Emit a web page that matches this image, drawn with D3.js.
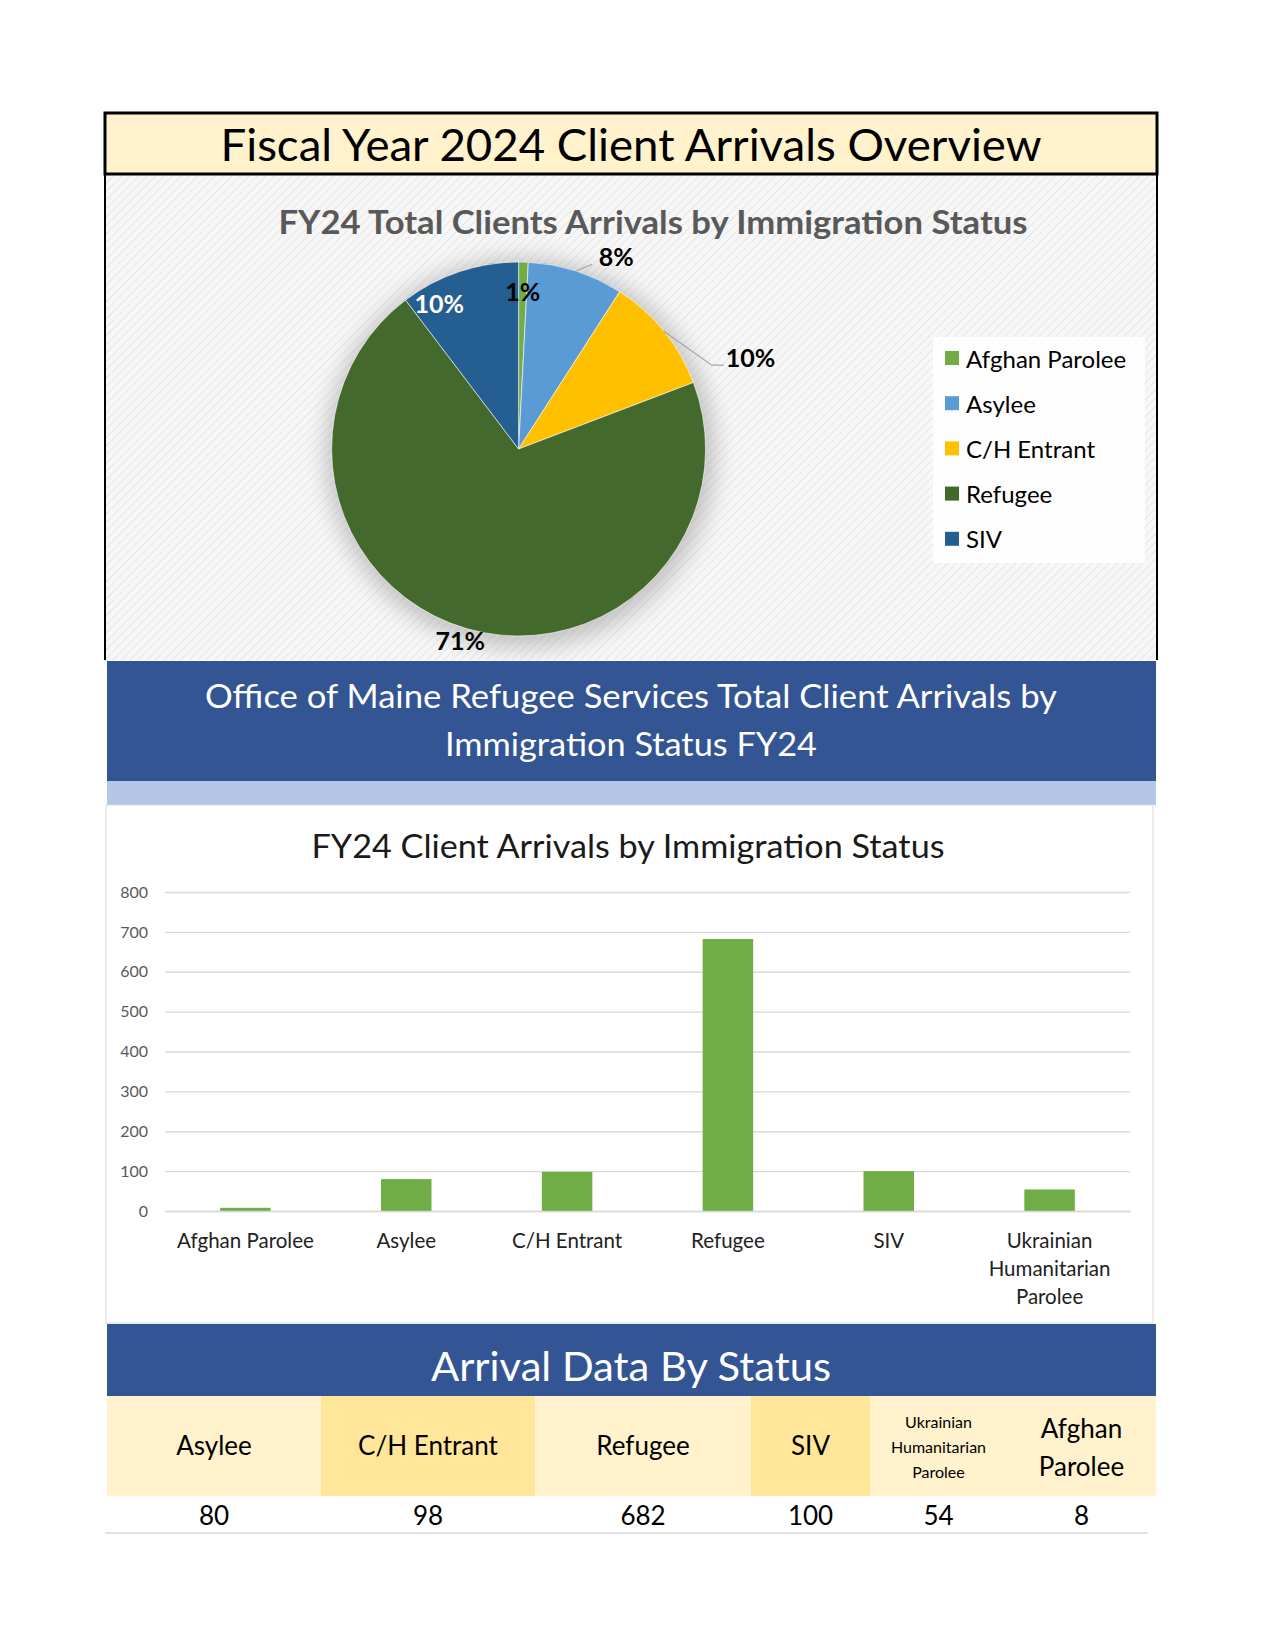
<!DOCTYPE html>
<html><head><meta charset="utf-8">
<script src="https://cdn.jsdelivr.net/npm/d3@7"></script>
<style>body{margin:0;background:#fff}svg{display:block}text{font-family:Lato,"Open Sans",sans-serif}</style>
</head><body>
<script>
// ---------- DATA ----------
const categories = ["Afghan Parolee","Asylee","C/H Entrant","Refugee","SIV","Ukrainian Humanitarian Parolee"];
const arrivals = [8,80,98,682,100,54];
const pieCategories = ["Afghan Parolee","Asylee","C/H Entrant","Refugee","SIV"];
const pieValues = [8,80,98,682,100];
const pieColors = ["#70AD47","#5B9BD5","#FFC000","#436A2C","#255E91"];
const yTicks = [0,100,200,300,400,500,600,700,800];
const tableLabels = ["Asylee","C/H Entrant","Refugee","SIV","Ukrainian Humanitarian Parolee","Afghan Parolee"];
const tableValues = [80,98,682,100,54,8];

// ---------- SETUP ----------
const W=1275,H=1650;
const svg=d3.select("body").append("svg").attr("width",W).attr("height",H);
const defs=svg.append("defs");
const pat=defs.append("pattern").attr("id","hatch").attr("width",6).attr("height",6)
  .attr("patternUnits","userSpaceOnUse").attr("patternTransform","rotate(45)");
pat.append("rect").attr("width",6).attr("height",6).attr("fill","#F7F7F7");
pat.append("line").attr("x1",0).attr("y1",0).attr("x2",0).attr("y2",6).attr("stroke","#E6E6E6").attr("stroke-width",2);
const blur=defs.append("filter").attr("id","soft").attr("x","-30%").attr("y","-30%").attr("width","160%").attr("height","160%");
blur.append("feGaussianBlur").attr("stdDeviation",11);

function txt(g,x,y,s,o={}){
  const t=g.append("text").attr("x",x).attr("y",y).text(s)
    .attr("font-size",o.size||16).attr("font-weight",o.weight||"normal")
    .attr("fill",o.fill||"#000").attr("text-anchor",o.anchor||"middle")
    .attr("dominant-baseline","central");
  if(o.width) t.attr("textLength",o.width).attr("lengthAdjust","spacingAndGlyphs");
  return t;
}

// ---------- TOP SECTION ----------
const L=105,R=1157;
svg.append("rect").attr("x",L).attr("y",174).attr("width",R-L).attr("height",486).attr("fill","url(#hatch)");
svg.append("rect").attr("x",L).attr("y",113).attr("width",R-L).attr("height",61).attr("fill","#FFF2CC")
  .attr("stroke","#000").attr("stroke-width",3);
svg.append("line").attr("x1",L).attr("x2",L).attr("y1",174).attr("y2",660).attr("stroke","#000").attr("stroke-width",2);
svg.append("line").attr("x1",R).attr("x2",R).attr("y1",174).attr("y2",660).attr("stroke","#000").attr("stroke-width",2);
txt(svg,(L+R)/2,144,"Fiscal Year 2024 Client Arrivals Overview",{size:44,width:821});

txt(svg,653,221,"FY24 Total Clients Arrivals by Immigration Status",{size:32,weight:"bold",fill:"#595959",width:749});

// pie
const cx=518.6,cy=449,rad=187;
const pg=svg.append("g").attr("transform",`translate(${cx},${cy})`);
pg.append("circle").attr("r",rad+8).attr("cx",2).attr("cy",4).attr("fill","#9a9a9a").attr("opacity",0.55).attr("filter","url(#soft)");
const pie=d3.pie().sort(null).value(d=>d)(pieValues);
const arc=d3.arc().innerRadius(0).outerRadius(rad);
pg.selectAll("path.slice").data(pie).join("path").attr("class","slice")
  .attr("d",arc).attr("fill",(d,i)=>pieColors[i]).attr("stroke","#fff").attr("stroke-width",0.6);
// percentages rounded so they add up to 100 (largest remainder)
const total=d3.sum(pieValues);
const raw=pieValues.map(v=>v/total*100);
const pcts=raw.map(Math.floor);
let left=100-d3.sum(pcts);
raw.map((v,i)=>[v-Math.floor(v),i]).sort((a,b)=>b[0]-a[0]).slice(0,left).forEach(([,i])=>pcts[i]++);
const labelLayout=[
  {r:158,da:0,fill:"#000"},
  {r:216,da:9,fill:"#000"},
  {r:0,da:0,fill:"#000"},
  {r:200,da:1,fill:"#000"},
  {r:166,da:-10,fill:"#fff"}
];
pie.forEach((d,i)=>{
  const mid=(d.startAngle+d.endAngle)/2, lay=labelLayout[i];
  const ox=rad*Math.sin(mid), oy=-rad*Math.cos(mid);
  const label=pcts[i]+"%";
  if(i===1){
    const a=mid+lay.da*Math.PI/180, lx=lay.r*Math.sin(a), ly=-lay.r*Math.cos(a);
    pg.append("polyline").attr("points",`${ox},${oy} ${lx-24},${ly+8}`).attr("fill","none").attr("stroke","#A6A6A6").attr("stroke-width",1.2);
    txt(pg,lx,ly,label,{size:25,weight:"bold",fill:lay.fill});
  } else if(i===2){
    const ex=ox+48, ey=oy+34;
    pg.append("polyline").attr("points",`${ox},${oy} ${ex},${ey} ${ex+12},${ey}`).attr("fill","none").attr("stroke","#A6A6A6").attr("stroke-width",1.2);
    txt(pg,ex+14,ey-8,label,{size:25,weight:"bold",anchor:"start"});
  } else {
    const a=mid+lay.da*Math.PI/180;
    txt(pg,lay.r*Math.sin(a),-lay.r*Math.cos(a),label,{size:25,weight:"bold",fill:lay.fill});
  }
});

// legend
const lg=svg.append("g");
lg.append("rect").attr("x",933).attr("y",337).attr("width",212).attr("height",226).attr("fill","#fff").attr("opacity",0.85);
pieCategories.forEach((c,i)=>{
  const y=358+i*45.2;
  lg.append("rect").attr("x",945).attr("y",y-7).attr("width",14).attr("height",14).attr("fill",pieColors[i]);
  txt(lg,966,y,c,{size:24,anchor:"start",fill:"#000"});
});

// ---------- BANNER ----------
svg.append("rect").attr("x",107).attr("y",661).attr("width",1049).attr("height",120).attr("fill","#335593");
svg.append("rect").attr("x",107).attr("y",781).attr("width",1049).attr("height",24).attr("fill","#B4C7E7");
txt(svg,631,695,"Office of Maine Refugee Services Total Client Arrivals by",{size:32,fill:"#fff",width:852});
txt(svg,631,743,"Immigration Status FY24",{size:32,fill:"#fff",width:372});

// ---------- BAR CHART ----------
svg.append("rect").attr("x",106).attr("y",805).attr("width",1047).attr("height",518).attr("fill","#fff").attr("stroke","#D9D9D9").attr("stroke-width",1);
txt(svg,628,845,"FY24 Client Arrivals by Immigration Status",{size:32,fill:"#1a1a1a",width:633});
const x=d3.scaleBand().domain(categories).range([165,1130]).paddingInner(0.686).paddingOuter(0.343);
const y=d3.scaleLinear().domain([0,800]).range([1211,892]);
const yAxis=svg.append("g").attr("transform","translate(165,0)")
  .call(d3.axisLeft(y).tickValues(yTicks).tickSize(-965).tickPadding(17));
yAxis.select(".domain").remove();
yAxis.selectAll(".tick line").attr("stroke","#D9D9D9").attr("stroke-width",1.3);
yAxis.selectAll(".tick text").attr("font-size",16).attr("fill","#595959").attr("font-family","Lato");
svg.append("g").selectAll("rect").data(arrivals).join("rect")
  .attr("x",(d,i)=>x(categories[i])).attr("width",x.bandwidth())
  .attr("y",d=>y(d)).attr("height",d=>y(0)-y(d)).attr("fill","#70AD47");
const xAxis=svg.append("g").attr("transform","translate(0,1211)").call(d3.axisBottom(x).tickSize(0).tickFormat(""));
xAxis.select(".domain").attr("stroke","#D9D9D9").attr("stroke-width",1.3);
categories.forEach(c=>{
  const lines=c==="Ukrainian Humanitarian Parolee"?["Ukrainian","Humanitarian","Parolee"]:[c];
  lines.forEach((ln,j)=>txt(svg,x(c)+x.bandwidth()/2,1240+j*28,ln,{size:20.5,fill:"#222"}));
});

// ---------- TABLE ----------
svg.append("rect").attr("x",107).attr("y",1324).attr("width",1049).attr("height",72).attr("fill","#335593");
txt(svg,631,1366,"Arrival Data By Status",{size:40,fill:"#fff",width:400});
const colEdges=[107,321,535,751,870,1007,1156];
const colFill=["#FFF2CC","#FFE699","#FFF2CC","#FFE699","#FFF2CC","#FFF2CC"];
tableLabels.forEach((lab,i)=>{
  const x0=colEdges[i],x1=colEdges[i+1],xc=(x0+x1)/2;
  svg.append("rect").attr("x",x0).attr("y",1396).attr("width",x1-x0).attr("height",100).attr("fill",colFill[i]);
  if(lab==="Ukrainian Humanitarian Parolee"){
    ["Ukrainian","Humanitarian","Parolee"].forEach((ln,j)=>txt(svg,xc,1421+j*25,ln,{size:16,fill:"#000"}));
  } else if(lab==="Afghan Parolee"){
    ["Afghan","Parolee"].forEach((ln,j)=>txt(svg,xc,1428+j*38,ln,{size:26,fill:"#000"}));
  } else {
    txt(svg,xc,1445,lab,{size:26,fill:"#000"});
  }
  txt(svg,xc,1515,String(tableValues[i]),{size:26,fill:"#000"});
});
svg.append("line").attr("x1",105).attr("x2",1148).attr("y1",1533).attr("y2",1533).attr("stroke","#D9D9D9").attr("stroke-width",1.5);
</script>
</body></html>
